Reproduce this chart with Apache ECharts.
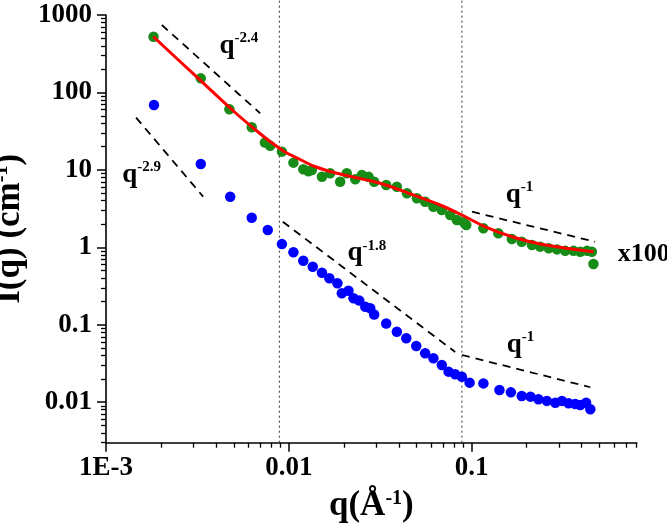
<!DOCTYPE html>
<html><head><meta charset="utf-8">
<script src="https://cdn.jsdelivr.net/npm/echarts@6/dist/echarts.min.js"></script>
<style>html,body{margin:0;padding:0;background:#fff}#c{width:667px;height:530px}</style>
</head><body><div id="c"></div>
<script>
// ---- data (q in 1/Å, I in 1/cm) ----
const greenQ = [0.00182,0.0033,0.00473,0.00627,0.0074,0.0079,0.00917,0.0106,0.0120,0.0128,0.01337,0.01518,0.01683,0.0191,0.02075,0.0231,0.0251,0.0273,0.0293,0.0341,0.039,0.0443,0.0502,0.0557,0.0618,0.0687,0.0764,0.083,0.0905,0.0935,0.116,0.140,0.166,0.188,0.214,0.237,0.264,0.293,0.325,0.361,0.393,0.428,0.455,0.464];
const greenI = [525,152,60.6,35.5,22.5,20.5,17.2,12.4,10.2,9.6,9.97,8.17,9.04,7.04,9.04,7.55,8.59,8.17,7.04,6.38,6.07,4.99,4.30,3.88,3.35,3.03,2.61,2.25,2.1,1.94,1.76,1.52,1.28,1.18,1.07,1.02,0.97,0.94,0.90,0.90,0.877,0.90,0.877,0.609];
const blueQ = [0.00183,0.0033,0.00478,0.00627,0.00767,0.00917,0.0106,0.0120,0.01352,0.01518,0.01667,0.01845,0.0195,0.0212,0.0226,0.0243,0.0262,0.0279,0.0293,0.0341,0.039,0.0439,0.0498,0.0557,0.0618,0.0687,0.0748,0.0813,0.0885,0.0975,0.116,0.142,0.164,0.188,0.21,0.232,0.258,0.287,0.312,0.339,0.369,0.393,0.423,0.446];
const blueI = [68.8,11.9,4.51,2.41,1.67,1.10,0.862,0.671,0.562,0.47,0.398,0.343,0.255,0.275,0.22,0.205,0.171,0.163,0.136,0.104,0.0813,0.0668,0.0532,0.0428,0.0369,0.0302,0.0248,0.0230,0.0213,0.0179,0.0175,0.0144,0.0134,0.0120,0.0118,0.0109,0.0104,0.00986,0.0104,0.00968,0.00948,0.0092,0.00986,0.0081];
const fitQ = [0.001816,0.002541,0.003709,0.005083,0.006537,0.007898,0.009543,0.01153,0.01363,0.01683,0.02077,0.0316,0.04808,0.0673,0.08849,0.1162,0.1662,0.2374,0.3612,0.4648];
const fitI = [524.6,250.9,109.5,55.08,33.22,23.25,17.02,13.62,11.22,9.53,8.46,6.71,4.74,3.52,2.614,1.885,1.371,1.104,0.9428,0.8779];
// power-law guide lines
const guide24Q = [0.00202,0.00697], guide24I = [743,53.8];
const guide29Q = [0.00146,0.0034], guide29I = [47.4,4.51];
const guide18Q = [0.00927,0.0813], guide18I = [2.14,0.0445];
const guide1upQ = [0.1005,0.474], guide1upI = [2.88,1.18];
const guide1loQ = [0.0885,0.446], guide1loI = [0.0407,0.0156];
// vertical dotted dividers
const dividerQ = [0.00888,0.0885];
const dividerI = [0.003,1560];
// annotations
const annotExp = ['-2.4','-2.9','-1.8','-1','-1'];
const annotQ = [0.00415,0.00122,0.0208,0.1528,0.1545];
const annotI = [400,8.6,0.84,4.8,0.055];
const scaleText = 'x100', scaleQ = 0.627, scaleI = 0.82;
// axes
const xMin = 0.001, xMax = 0.8, yMin = 0.003, yMax = 1000;
const xTickValues = [0.001,0.01,0.1];
const xTickLabels = ['1E-3','0.01','0.1'];
const yTickValues = [0.01,0.1,1,10,100,1000];
const yTickLabels = ['0.01','0.1','1','10','100','1000'];

function minorTicks(lo, hi){
  const out=[];
  for(let d=Math.floor(Math.log10(lo)); d<=Math.ceil(Math.log10(hi)); d++){
    for(let m=2;m<=9;m++){const v=+(m*Math.pow(10,d)).toPrecision(6); if(v>=lo-1e-12&&v<=hi+1e-12) out.push(v);}
  }
  return out;
}
function lab(values, labels){
  return v => { for(let i=0;i<values.length;i++){ if(Math.abs(Math.log10(v/values[i]))<1e-6) return labels[i]; } return ''; };
}
const zip = (a,b)=>a.map((v,i)=>[v,b[i]]);
const FONT = '"Liberation Serif","Times New Roman",serif';
const axisLine = {show:true, onZero:false, lineStyle:{color:'#000', width:1.6}};

const chart = echarts.init(document.getElementById('c'), null, {renderer:'canvas'});
const guideStyle = {color:'#000', width:1.8, type:[8,6]};
function guide(q,i){ return {type:'line', data:zip(q,i), symbol:'none', lineStyle:guideStyle, silent:true, z:3}; }
function divider(q){ return {type:'line', data:dividerI.map(v=>[q,v]), symbol:'none', clip:false, lineStyle:{color:'#333', width:1, type:[2,3]}, silent:true, z:1}; }
const hidden = {color:'rgba(0,0,0,0)', opacity:1};

chart.setOption({
  animation:false,
  backgroundColor:'#fff',
  grid:{left:106, right:30.3, top:15, bottom:87.3, containLabel:false, outerBoundsMode:'none'},
  xAxis:[{
    type:'log', min:xMin, max:xMax, position:'bottom',
    axisLine:axisLine,
    axisTick:{show:true, inside:false, length:9, lineStyle:{color:'#000', width:1.5}, customValues:xTickValues},
    axisLabel:{show:true, margin:12, fontFamily:FONT, fontWeight:'bold', fontSize:27, color:'#000', customValues:xTickValues, formatter:lab(xTickValues,xTickLabels)},
    splitLine:{show:false},
    name:'{a|q(Å}{s|-1}{a|)}', nameLocation:'middle', nameGap:46,
    nameTextStyle:{verticalAlign:'top', rich:{a:{fontFamily:FONT, fontWeight:'bold', fontSize:35, color:'#000'}, s:{fontFamily:FONT, fontWeight:'bold', fontSize:20, color:'#000', verticalAlign:'top'}}}
  },{
    type:'log', min:xMin, max:xMax, position:'bottom',
    axisLine:{show:false, onZero:false},
    axisTick:{show:true, inside:false, length:5, lineStyle:{color:'#000', width:1.3}, customValues:minorTicks(xMin,xMax)},
    axisLabel:{show:false}, splitLine:{show:false}
  }],
  yAxis:[{
    type:'log', min:yMin, max:yMax, position:'left',
    axisLine:axisLine,
    axisTick:{show:true, inside:false, length:9, lineStyle:{color:'#000', width:1.5}, customValues:yTickValues},
    axisLabel:{show:true, margin:14, fontFamily:FONT, fontWeight:'bold', fontSize:27, color:'#000', customValues:yTickValues, formatter:lab(yTickValues,yTickLabels)},
    splitLine:{show:false},
    name:'{a|I(q) (cm}{s|-1}{a|)}', nameLocation:'middle', nameGap:47, nameRotate:90,
    nameTextStyle:{rich:{a:{fontFamily:FONT, fontWeight:'bold', fontSize:35, color:'#000'}, s:{fontFamily:FONT, fontWeight:'bold', fontSize:20, color:'#000', verticalAlign:'top'}}}
  },{
    type:'log', min:yMin, max:yMax, position:'left',
    axisLine:{show:false, onZero:false},
    axisTick:{show:true, inside:false, length:5, lineStyle:{color:'#000', width:1.3}, customValues:minorTicks(yMin,yMax)},
    axisLabel:{show:false}, splitLine:{show:false}
  }],
  series:[
    divider(dividerQ[0]), divider(dividerQ[1]),
    {type:'scatter', data:zip(blueQ,blueI), symbolSize:10.5, itemStyle:{color:'#0000ff', opacity:1}, z:4},
    {type:'scatter', data:zip(greenQ,greenI), symbolSize:10.5, itemStyle:{color:'#178c17', opacity:1}, z:4},
    {type:'line', data:zip(fitQ,fitI), smooth:0.3, symbol:'none', lineStyle:{color:'#ff0000', width:3}, z:5},
    guide(guide24Q,guide24I), guide(guide29Q,guide29I), guide(guide18Q,guide18I), guide(guide1upQ,guide1upI), guide(guide1loQ,guide1loI),
    {type:'scatter', data:annotQ.map((q,i)=>({value:[q,annotI[i]], exp:annotExp[i]})), symbolSize:1, itemStyle:hidden, silent:true, z:6, clip:false,
      label:{show:true, position:'right', distance:0, opacity:1, formatter:p=>'{q|q}{s|'+p.data.exp+'}',
        rich:{q:{fontFamily:FONT, fontWeight:'bold', fontSize:27, color:'#000', lineHeight:30}, s:{fontFamily:FONT, fontWeight:'bold', fontSize:15, color:'#000', verticalAlign:'top'}}}},
    {type:'scatter', data:[[scaleQ,scaleI]], symbolSize:1, itemStyle:hidden, silent:true, z:6, clip:false,
      label:{show:true, position:'right', distance:0, opacity:1, formatter:scaleText, fontFamily:FONT, fontWeight:'bold', fontSize:26, color:'#000'}}
  ]
});
</script></body></html>
